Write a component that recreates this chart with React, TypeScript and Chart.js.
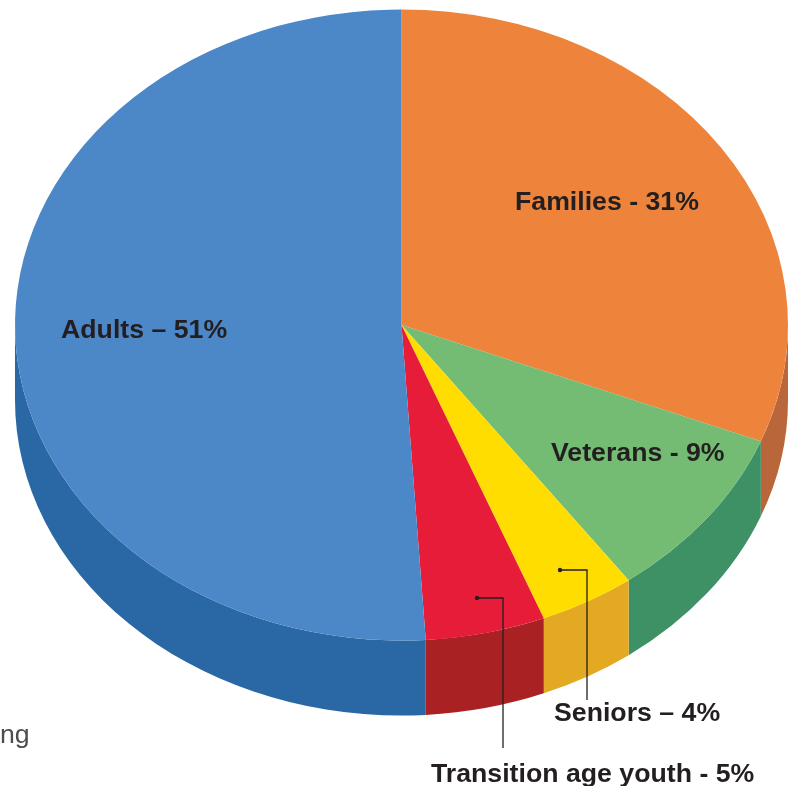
import React, { useEffect, useRef } from "react";
import { Chart, registerables } from "chart.js";

Chart.register(...registerables);

const categories = ["Families", "Veterans", "Seniors", "Transition age youth", "Adults"];
const shares = [31, 9, 4, 5, 51];
const topColors = ["#ee843b", "#74bb73", "#ffdd00", "#e61c39", "#4c87c7"];
const sideColors = ["#b9663a", "#3e9164", "#e3a922", "#aa2124", "#2968a5"];
const labelTexts = ["Families - 31%", "Veterans - 9%", "Seniors – 4%", "Transition age youth - 5%", "Adults – 51%"];
const labelLefts = [515, 551, 554, 431, 61];
const labelBaselines = [210, 461, 721, 782, 338];
const leaderPaths = [
  [[560, 570], [587, 570], [587, 700]],
  [[477, 598], [503, 598], [503, 748]],
];

const CX = 401.5;
const CY = 325;
const RX = 386.5;
const RY = 315.5;
const DEPTH = 75;
const INK = "#231f20";

const solidPie = {
  id: "solidPie",
  beforeDatasetsDraw(chart: any) {
    const { ctx } = chart;
    const arcs = chart.getDatasetMeta(0).data;
    const first = arcs[0];
    ctx.save();
    arcs.forEach((arc: any, i: number) => {
      // only the front half of the rim is visible
      const a0 = Math.max(arc.startAngle, 0);
      const a1 = Math.min(arc.endAngle, Math.PI);
      ctx.beginPath();
      ctx.ellipse(CX, CY, RX, RY, 0, a0, a1);
      ctx.ellipse(CX, CY + DEPTH, RX, RY, 0, a1, a0, true);
      ctx.closePath();
      ctx.fillStyle = sideColors[i];
      ctx.fill();
    });
    ctx.translate(CX, CY);
    ctx.scale(RX / first.outerRadius, RY / first.outerRadius);
    ctx.translate(-first.x, -first.y);
  },
  afterDatasetsDraw(chart: any) {
    const { ctx } = chart;
    ctx.restore();
    ctx.save();
    ctx.fillStyle = INK;
    ctx.textAlign = "left";
    ctx.textBaseline = "alphabetic";
    ctx.font = 'bold 26.7px "Liberation Sans", Arial, sans-serif';
    labelTexts.forEach((t, i) => ctx.fillText(t, labelLefts[i], labelBaselines[i]));
    ctx.font = '26.7px "Liberation Sans", Arial, sans-serif';
    ctx.fillStyle = "#4d4d4f";
    ctx.fillText("ng", 0, 743);
    ctx.strokeStyle = INK;
    ctx.fillStyle = INK;
    ctx.lineWidth = 1.3;
    leaderPaths.forEach((p) => {
      ctx.beginPath();
      p.forEach(([x, y], j) => (j ? ctx.lineTo(x, y) : ctx.moveTo(x, y)));
      ctx.stroke();
      ctx.beginPath();
      ctx.arc(p[0][0], p[0][1], 2.2, 0, Math.PI * 2);
      ctx.fill();
    });
    ctx.restore();
  },
};

export default function App() {
  const ref = useRef<HTMLCanvasElement>(null);
  useEffect(() => {
    const chart = new Chart(ref.current!, {
      type: "pie",
      data: {
        labels: categories,
        datasets: [
          {
            data: shares,
            backgroundColor: topColors,
            borderWidth: 0,
          },
        ],
      },
      options: {
        animation: false,
        responsive: false,
        devicePixelRatio: 1,
        plugins: { legend: { display: false }, tooltip: { enabled: false } },
      },
      plugins: [solidPie],
    });
    return () => chart.destroy();
  }, []);
  return (
    <canvas
      ref={ref}
      width={793}
      height={786}
      style={{ position: "fixed", left: 0, top: 0, display: "block" }}
    />
  );
}
